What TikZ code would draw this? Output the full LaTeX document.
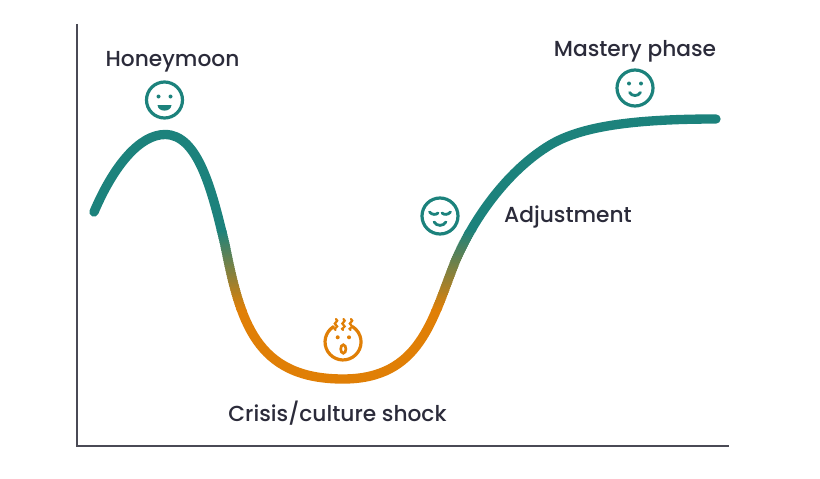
\documentclass[tikz,border=0pt]{standalone}
\usepackage{fontspec}
\setmainfont{Poppins}[UprightFont=* Medium]
\definecolor{curveteal}{HTML}{1C827C}
\definecolor{curveorange}{HTML}{E07F06}
\definecolor{axisgrey}{HTML}{4A4A55}
\definecolor{labelink}{HTML}{2B2B3A}

\def\curvepath{(94,212) .. controls (114,165) and (140,134.5) .. (165,134.5)
 .. controls (198,134.5) and (212,190) .. (225,245)
 .. controls (240,320) and (255,379) .. (343,379)
 .. controls (420,379) and (432,320) .. (455,262)
 .. controls (475,215) and (510,169) .. (550,145)
 .. controls (580,127) and (630,119) .. (716,119)}

\begin{document}
\begin{tikzpicture}[x=0.75pt,y=-0.75pt]
\tikzstyle{axisline}=[axisgrey,line width=1.1pt]
\tikzstyle{curveline}=[line width=7pt,line cap=round]
\tikzstyle{facering}=[circle,draw,line width=2.4pt,minimum size=27pt,inner sep=0pt]
\tikzstyle{faceline}=[line width=2.1pt,line cap=round]
\tikzstyle{tagtext}=[text=labelink,anchor=base,font=\fontsize{16.3}{19}\selectfont]
\useasboundingbox (0,0) rectangle (820,478);

%% Axes
\coordinate (top) at (77,24);
\coordinate (origin) at (77,446);
\coordinate (far) at (729,446);
\draw [axisline] (top) -- (origin) -- (far);

%% Curve, teal on top, orange below, mixed in thin bands
\begin{scope}
    \clip (0,0) rectangle (820,231);
    \draw [curveline,curveteal] \curvepath;
\end{scope}
\begin{scope}
    \clip (0,309) rectangle (820,478);
    \draw [curveline,curveorange] \curvepath;
\end{scope}
\foreach \band in {0,...,39} {
    \pgfmathsetmacro{\mixpct}{100-(\band+0.5)*2.5}
    \begin{scope}
        \clip (0,230+2*\band) rectangle (820,232.6+2*\band);
        \draw [curveline,curveteal!\mixpct!curveorange] \curvepath;
    \end{scope}
}

%% Labels
\node [tagtext] (honeymoon) at (172.5,66) {Honeymoon};
\node [tagtext] (mastery) at (635,56) {Mastery phase};
\node [tagtext] (adjustment) at (568,222.5) {Adjustment};
\node [tagtext] (crisis) at (337.5,421) {Crisis/culture shock};

%% Honeymoon face
\node [facering,curveteal] (faceA) at (164.5,100) {};
\fill [curveteal] (158.5,96.5) circle (2);
\fill [curveteal] (170.5,96.5) circle (2);
\fill [curveteal] (157.5,105) -- (171.5,105) .. controls (171,112.5) and (158,112.5) .. (157.5,105) -- cycle;

%% Crisis face
\coordinate (faceB) at (343,342);
\draw [curveorange,line width=2.4pt,line cap=round] (333.5,326.7) arc (-122:-418:18);
\fill [curveorange] (337.7,337.3) circle (2);
\fill [curveorange] (349,337.3) circle (2);
\draw [curveorange,line width=2pt] (343.3,349) ellipse (2.6 and 4.2);
\foreach \steamx in {336,343.5,351} {
    \draw [curveorange,line width=1.7pt,line cap=round] (\steamx,319) .. controls (\steamx+4,321.5) and (\steamx-4,323) .. (\steamx,325) .. controls (\steamx+4,327) and (\steamx-4,328.5) .. (\steamx-0.5,330);
}

%% Adjustment face
\node [facering,curveteal] (faceC) at (440,216) {};
\draw [faceline,curveteal] (429.5,212) .. controls (432,215) and (436,215) .. (438,213);
\draw [faceline,curveteal] (442,213) .. controls (444,215) and (448,215) .. (450.5,212);
\draw [faceline,curveteal] (434,222) .. controls (437,226.5) and (443,226.5) .. (446,222);

%% Mastery face
\node [facering,curveteal] (faceD) at (635,88) {};
\fill [curveteal] (629,83.5) circle (2);
\fill [curveteal] (641,83.5) circle (2);
\draw [faceline,curveteal] (629.5,92.5) .. controls (632,96.5) and (638,96.5) .. (640.5,92.5);

\end{tikzpicture}
\end{document}
